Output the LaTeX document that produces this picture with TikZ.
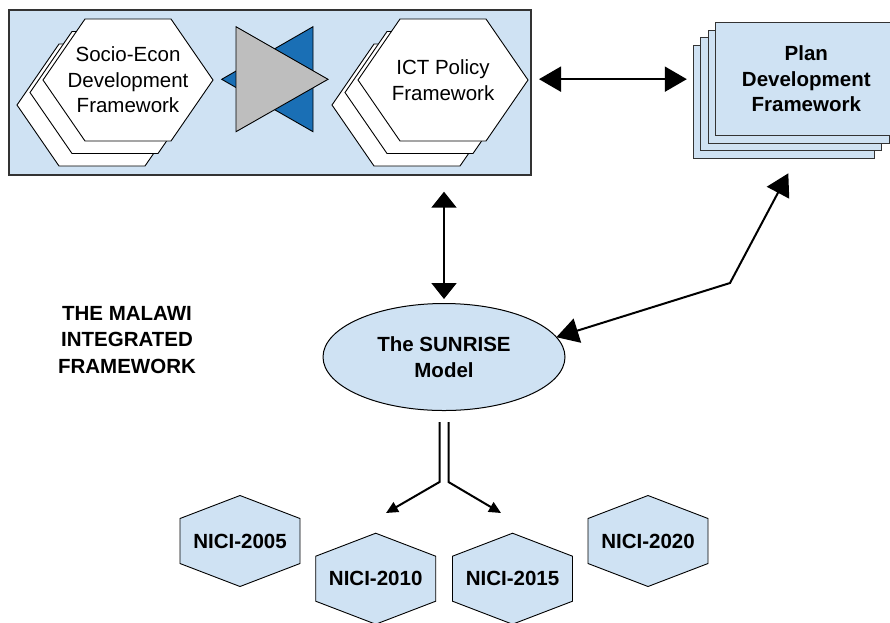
\documentclass[tikz,border=0pt]{standalone}
\usepackage{fontspec}
\setmainfont{Liberation Sans}
\usetikzlibrary{arrows.meta,shapes.geometric}
\definecolor{paleblue}{HTML}{CFE2F3}
\definecolor{deepblue}{HTML}{1A6FB5}
\definecolor{midgray}{HTML}{BEBEBE}
\definecolor{edgegray}{HTML}{333333}
\begin{document}
\begin{tikzpicture}[x=1pt,y=-1pt,
  txt/.style={font=\fontsize{20.5}{25.5}\selectfont, align=center, inner sep=0pt},
  boldtxt/.style={txt, font=\fontsize{20.5}{25.5}\selectfont\bfseries},
  hexline/.style={draw=black, line width=0.9pt, line join=miter},
  bighex/.pic={\path[hexline, fill=white] (-85,0) -- (-43,-61) -- (43,-61) -- (85,0) -- (43,61) -- (-43,61) -- cycle;},
  nicihex/.pic={\path[hexline, fill=paleblue] (-60,-22.5) -- (0,-45.5) -- (60,-22.5) -- (60,22.5) -- (0,45.5) -- (-60,22.5) -- cycle;},
  planbox/.style={draw=edgegray, line width=1pt, fill=paleblue},
  conn/.style={draw=black, line width=2pt},
  bigtips/.style={conn, {Triangle[length=22pt,width=25pt]}-{Triangle[length=22pt,width=25pt]}},
  vtips/.style={conn, {Triangle[length=16pt,width=25pt]}-{Triangle[length=16pt,width=25pt]}},
  smalltip/.style={conn, -{Triangle[length=12pt,width=11pt]}},
  tri/.style={draw=black, line width=0.9pt, line join=miter}
]
\useasboundingbox (0,0) rectangle (890,622);
\clip (0,0) rectangle (890,622);

% framework panel
\node[draw=edgegray, line width=1.3pt, fill=paleblue, minimum width=522pt,
      minimum height=165pt, inner sep=0pt, outer sep=0pt] (panel) at (270,92.5) {};

% Socio-Econ stack
\pic at (102,105) {bighex};
\pic at (115,92.5) {bighex};
\pic at (128,80) {bighex};
\node[txt] (socio) at (128,80) {Socio-Econ\\Development\\Framework};

% interlocking triangles
\path[tri, fill=deepblue] (313,26.7) -- (313,131.7) -- (221.7,79.3) -- cycle;
\path[tri, fill=midgray] (236,26.7) -- (236,131.7) -- (328,79.3) -- cycle;

% ICT Policy stack
\pic at (417,105) {bighex};
\pic at (430,92.5) {bighex};
\pic at (443,80) {bighex};
\node[txt] (ict) at (443,80) {ICT Policy\\Framework};

% Plan Development stack
\foreach \d in {22.5,15,7.5}
  \path[planbox] (715.8-\d,22.5+\d) rectangle ++(181,113.3);
\node[planbox, boldtxt, minimum width=181pt, minimum height=113.3pt, outer sep=0pt]
  (plan) at (806.3,79.15) {Plan\\Development\\Framework};

% SUNRISE model
\node[ellipse, draw=black, line width=1pt, fill=paleblue, boldtxt,
      minimum width=242pt, minimum height=107pt, outer sep=0pt]
  (sunrise) at (444,357) {The SUNRISE\\Model};

% title
\node[boldtxt, font=\fontsize{20.5}{26.5}\selectfont\bfseries] (malawi) at (127,340)
  {THE MALAWI\\INTEGRATED\\FRAMEWORK};

% NICI phases
\pic at (240,541) {nicihex};
\node[boldtxt] (n2005) at (240,541) {NICI-2005};
\pic at (375.7,578.7) {nicihex};
\node[boldtxt] (n2010) at (375.7,578.7) {NICI-2010};
\pic at (512.5,578.7) {nicihex};
\node[boldtxt] (n2015) at (512.5,578.7) {NICI-2015};
\pic at (648,541) {nicihex};
\node[boldtxt] (n2020) at (648,541) {NICI-2020};

% connectors
\draw[bigtips, shorten <=8pt, shorten >=29pt] (panel.east |- plan.west) -- (plan.west);
\draw[vtips, shorten <=16.7pt, shorten >=4.5pt] (sunrise.north |- panel.south) -- (sunrise.north);
\coordinate (kink) at (730,283);
\draw[bigtips, line join=miter] (sunrise.10) -- (kink) -- ([shift={(-18pt,-37.5pt)}]plan.south);
\coordinate (tipL) at (386,513);
\coordinate (tipR) at (501,513);
\draw[smalltip] ([shift={(-4.5pt,-11.5pt)}]sunrise.south) -- ++(0,60) -- (tipL);
\draw[smalltip] ([shift={(4.5pt,-11.5pt)}]sunrise.south) -- ++(0,60) -- (tipR);
\end{tikzpicture}
\end{document}
